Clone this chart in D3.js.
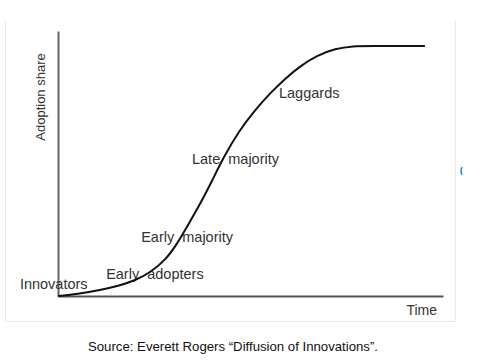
<!DOCTYPE html>
<html>
<head>
<meta charset="utf-8">
<script src="https://cdn.jsdelivr.net/npm/d3@7"></script>
<style>
  body { margin: 0; background: #fff; }
  text { font-family: Arial, "Liberation Sans", sans-serif; fill: #333; white-space: pre; }
</style>
</head>
<body>
<div class="chart"></div>
<script>
// adoption curve (time 0-100, share 0-1)
const time  = [0, 5, 11, 16, 20, 24, 28, 31, 34, 37, 40, 43, 47, 51, 55, 59, 63, 67, 72, 77, 80, 95.3];
const share = [0, 0.008, 0.024, 0.042, 0.062, 0.094, 0.145, 0.21, 0.29, 0.37, 0.46, 0.555, 0.66, 0.74, 0.81, 0.87, 0.92, 0.96, 0.99, 1.0, 1.0, 1.0];

const stageLabels = ['Innovators', 'Early  adopters', 'Early  majority', 'Late  majority', 'Laggards'];
const stageTime  = [-9.9, 12.5, 21.6, 34.8, 57.4];
const stageShare = [0.028, 0.068, 0.216, 0.528, 0.792];

const svgWidth = 494;
const svgHeight = 361;

const svg = d3.select('.chart')
  .append('svg')
  .attr('width', svgWidth)
  .attr('height', svgHeight);

// faint frame round the picture
svg.append('path')
  .attr('d', 'M5.5,20 V321.5 H455.5 V20')
  .attr('fill', 'none')
  .attr('stroke', '#f1ead9')
  .attr('stroke-width', 1);

const x = d3.scaleLinear().domain([0, 100]).range([58, 443]);
const y = d3.scaleLinear().domain([0, 1.06]).range([296, 31]);

// axes without ticks
svg.append('g')
  .attr('transform', `translate(0, ${y(0)})`)
  .call(d3.axisBottom(x).tickValues([]).tickSizeOuter(0))
  .select('.domain')
  .attr('stroke', '#555')
  .attr('stroke-width', 2);

svg.append('g')
  .attr('transform', `translate(${x(0)}, 0)`)
  .call(d3.axisLeft(y).tickValues([]).tickSizeOuter(0))
  .select('.domain')
  .attr('stroke', '#666')
  .attr('stroke-width', 2);

// stage labels
svg.selectAll('.stage')
  .data(stageLabels)
  .enter()
  .append('text')
  .attr('class', 'stage')
  .attr('x', (d, i) => x(stageTime[i]))
  .attr('y', (d, i) => y(stageShare[i]))
  .style('font-size', '14.5px')
  .text(d => d);

// curve
const line = d3.line()
  .x((d, i) => x(time[i]))
  .y(d => y(d))
  .curve(d3.curveBasis);

svg.append('path')
  .datum(share)
  .attr('d', line)
  .attr('fill', 'none')
  .attr('stroke', '#111')
  .attr('stroke-width', 2);

// axis titles
svg.append('text')
  .attr('transform', 'translate(45, 97) rotate(-90)')
  .style('text-anchor', 'middle')
  .style('font-size', '13px')
  .text('Adoption share');

svg.append('text')
  .attr('x', 437)
  .attr('y', 315)
  .style('text-anchor', 'end')
  .style('font-size', '14px')
  .text('Time');

// small blue mark at right edge
svg.append('path')
  .attr('d', 'M462,167 Q460,171 462,175')
  .attr('fill', 'none')
  .attr('stroke', '#2a8ad8')
  .attr('stroke-width', 1.5);

// source
svg.append('text')
  .attr('x', 233)
  .attr('y', 351)
  .style('text-anchor', 'middle')
  .style('font-size', '13.2px')
  .style('fill', '#111')
  .text('Source: Everett Rogers \u201CDiffusion of Innovations\u201D.');
</script>
</body>
</html>
